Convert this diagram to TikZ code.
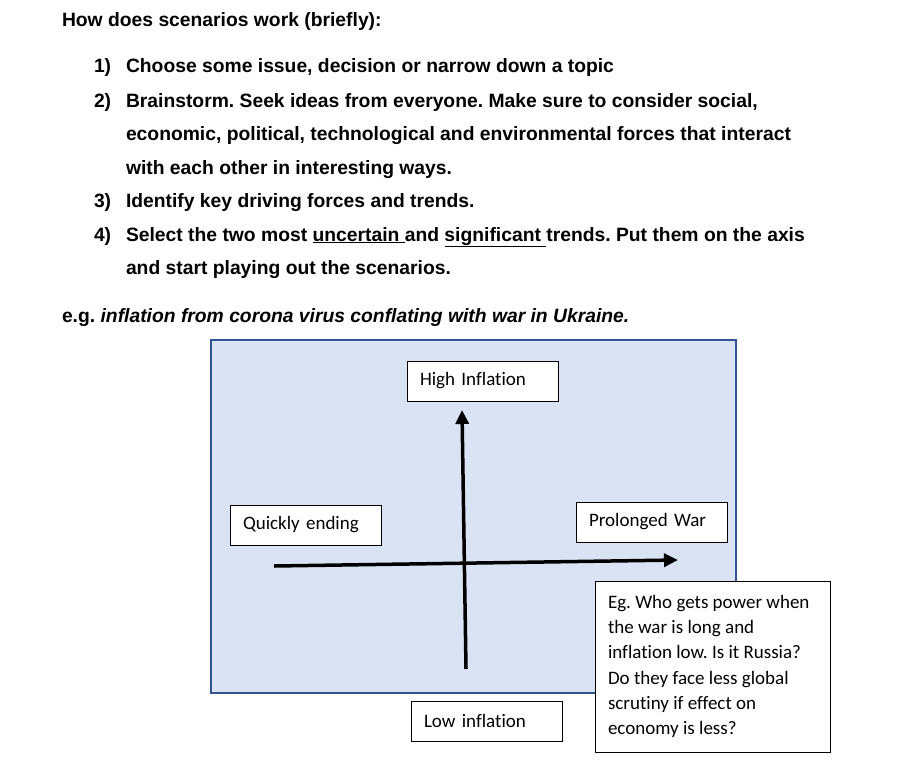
\documentclass[tikz,border=0pt]{standalone}
\usepackage{fontspec}
\setmainfont[Ligatures=CommonOff]{Liberation Sans}
\newfontfamily\calfont[Ligatures=CommonOff]{Carlito}
\usetikzlibrary{arrows.meta}
\definecolor{panelfill}{RGB}{218,227,243}
\definecolor{paneledge}{RGB}{47,85,151}
\frenchspacing

\begin{document}
\begin{tikzpicture}[
  x=1pt, y=-1pt,
  every node/.style={inner sep=0pt, outer sep=0pt},
  txt/.style={anchor=base west, font=\fontsize{19.3}{23}\selectfont\bfseries},
  panel/.style={
    draw=paneledge, fill=panelfill, line width=1.6pt,
    anchor=north west, minimum width=525pt, minimum height=353pt,
  },
  namebox/.style={
    draw=black, fill=white, line width=0.8pt,
    anchor=north west, minimum width=151pt, minimum height=40pt,
    inner xsep=13pt, text width=125pt, align=left,
    font=\calfont\fontsize{19}{23}\selectfont,
  },
  notebox/.style={
    draw=black, fill=white, line width=0.8pt,
    anchor=north west, minimum width=235pt, minimum height=171pt,
  },
  notetext/.style={
    anchor=west, align=left,
    font=\calfont\fontsize{19}{25.3}\selectfont,
  },
  axis/.style={-{Triangle[length=14pt,width=13pt]}, line width=3.5pt, black},
]
  \useasboundingbox (0,0) rectangle (909,765);

  % intro text
  \node[txt] (head) at (62,27) {How does scenarios work (briefly):};
  \node[txt] (n1) at (94,73)  {1)};
  \node[txt] (i1) at (126,73) {Choose some issue, decision or narrow down a topic};
  \node[txt] (n2) at (94,107) {2)};
  \node[txt] (i2a) at (126,107) {Brainstorm. Seek ideas from everyone. Make sure to consider social,};
  \node[txt] (i2b) at (126,140) {economic, political, technological and environmental forces that interact};
  \node[txt] (i2c) at (126,174) {with each other in interesting ways.};
  \node[txt] (n3) at (94,207) {3)};
  \node[txt] (i3) at (126,207) {Identify key driving forces and trends.};
  \node[txt] (n4) at (94,241) {4)};
  \node[txt] (i4a) at (126,241) {Select the two most \underline{uncertain\ }and \underline{significant\ }trends. Put them on the axis};
  \node[txt] (i4b) at (126,274) {and start playing out the scenarios.};
  \node[txt] (eg) at (62,322) {e.g. \itshape inflation from corona virus conflating with war in Ukraine.};

  % scenario panel
  \node[panel] (panel) at (211,340) {};
  \node[namebox] (high)  at (407,361) {High Inflation};
  \node[namebox] (quick) at (230,505) {Quickly ending};
  \node[namebox] (war)   at (576,502) {Prolonged War};
  \node[namebox] (low)   at (411,701) {Low inflation};

  \coordinate (vlow)   at (466,669);
  \coordinate (vhigh)  at (462,410);
  \coordinate (hleft)  at (274,566);
  \coordinate (hright) at (678,560);
  \draw[axis] (vlow) -- (vhigh);
  \draw[axis] (hleft) -- (hright);

  \node[notebox] (note) at (595,581) {};
  \node[notetext] (notetxt) at ([xshift=13pt]note.west) {Eg. Who gets power when\\the war is long and\\inflation low. Is it Russia?\\Do they face less global\\scrutiny if effect on\\economy is less?};
\end{tikzpicture}
\end{document}
